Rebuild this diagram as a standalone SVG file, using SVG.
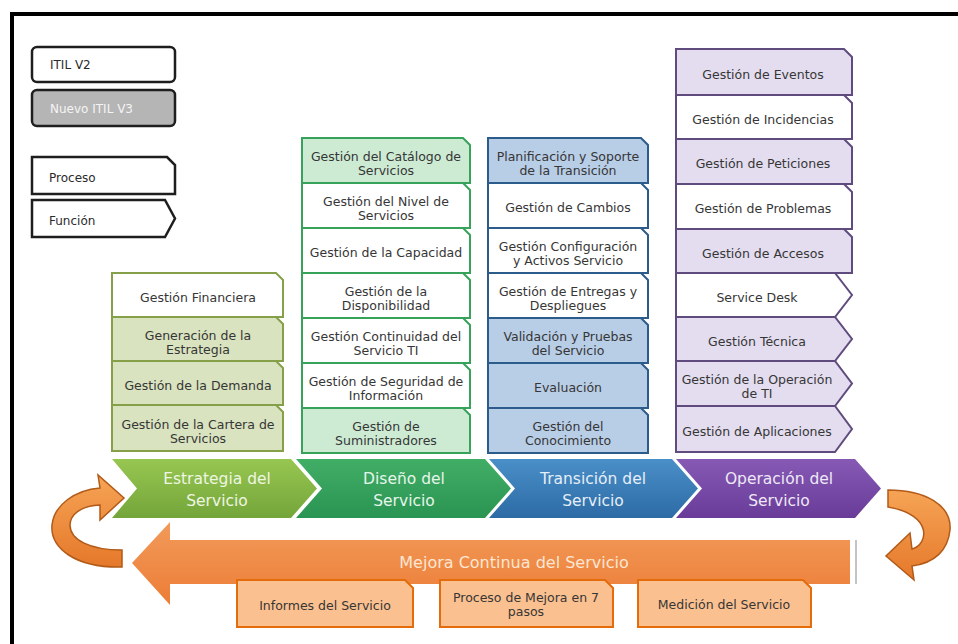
<svg xmlns="http://www.w3.org/2000/svg" width="958" height="644" viewBox="0 0 958 644">
<defs>
<style>
.t{font-family:"DejaVu Sans",Verdana,sans-serif;font-size:12.5px;fill:#363636;text-anchor:middle}
.lg{font-family:"DejaVu Sans",Verdana,sans-serif;font-size:12px;fill:#2a2a2a}
.ph{font-family:"DejaVu Sans",Verdana,sans-serif;font-size:15.5px;text-anchor:middle}
.lgb{stroke:#1e1e1e;stroke-width:2.5}
.s1{stroke:#86a04a;stroke-width:2}
.s2{stroke:#37a35a;stroke-width:2}
.s3{stroke:#2b5c8c;stroke-width:2}
.s4{stroke:#5f4b7d;stroke-width:2}
.so{stroke:#e46c0a;stroke-width:2;fill:#fbc08f}
.w{fill:#ffffff}
.f1{fill:#d9e3bf}
.f2{fill:#cdebd3}
.f3{fill:#b8cde6}
.f4{fill:#e3ddef}
.curv{fill:url(#gCurve);stroke:#b25a18;stroke-width:1.5}
</style>
<linearGradient id="gE" x1="0" y1="0" x2="0" y2="1"><stop offset="0" stop-color="#97c651"/><stop offset="1" stop-color="#74a53a"/></linearGradient>
<linearGradient id="gD" x1="0" y1="0" x2="0" y2="1"><stop offset="0" stop-color="#41ae66"/><stop offset="1" stop-color="#2a9452"/></linearGradient>
<linearGradient id="gT" x1="0" y1="0" x2="0" y2="1"><stop offset="0" stop-color="#4a8fc8"/><stop offset="1" stop-color="#2d6ba5"/></linearGradient>
<linearGradient id="gO" x1="0" y1="0" x2="0" y2="1"><stop offset="0" stop-color="#8659b5"/><stop offset="1" stop-color="#683c98"/></linearGradient>
<linearGradient id="gOr" x1="0" y1="0" x2="0" y2="1"><stop offset="0" stop-color="#f29a5a"/><stop offset="1" stop-color="#ec7d36"/></linearGradient>
<linearGradient id="gCurve" x1="0" y1="0" x2="0" y2="1"><stop offset="0" stop-color="#f6a456"/><stop offset="1" stop-color="#e5782a"/></linearGradient>
</defs>

<rect x="0" y="0" width="958" height="644" fill="#ffffff"/>
<g id="frame">
<rect x="10" y="12" width="948" height="4" fill="#000"/>
<rect x="10" y="12" width="4" height="632" fill="#000"/>
</g>

<!-- Legend -->
<g id="legend-itil-v2"><rect x="32" y="47" width="143" height="35" rx="5" class="lgb" fill="#fff"/><text x="50" y="69" class="lg">ITIL V2</text></g>
<g id="legend-nuevo-itil-v3"><rect x="32" y="90" width="143" height="36" rx="5" class="lgb" fill="#b5b5b5"/><text x="50" y="113" class="lg" style="fill:#f4f4f4">Nuevo ITIL V3</text></g>
<g id="legend-proceso"><path d="M32 157 H167 L175 165 V194 H32 Z" class="lgb" fill="#fff"/><text x="49" y="182" class="lg">Proceso</text></g>
<g id="legend-funcion"><path d="M32 200 H165 L175 218.5 L165 237 H32 Z" class="lgb" fill="#fff"/><text x="49" y="225" class="lg">Función</text></g>

<!-- Estrategia column -->
<g id="estrategia-financiera"><path d="M112 273 H276 L283 280 V317 H112 Z" class="s1 w"/><text x="198" y="301.5" class="t">Gestión Financiera</text></g>
<g id="estrategia-generacion"><path d="M112 317 H276 L283 324 V361 H112 Z" class="s1 f1"/><text x="198" y="339.5" class="t">Generación de la</text><text x="198" y="353.5" class="t">Estrategia</text></g>
<g id="estrategia-demanda"><path d="M112 361 H276 L283 368 V405 H112 Z" class="s1 f1"/><text x="198" y="389.5" class="t">Gestión de la Demanda</text></g>
<g id="estrategia-cartera"><path d="M112 405 H276 L283 412 V451 H112 Z" class="s1 f1"/><text x="198" y="428.5" class="t">Gestión de la Cartera de</text><text x="198" y="442.5" class="t">Servicios</text></g>

<!-- Diseño column -->
<g id="diseno-catalogo"><path d="M302 138 H463 L470 145 V183 H302 Z" class="s2 f2"/><text x="386" y="161" class="t">Gestión del Catálogo de</text><text x="386" y="175" class="t">Servicios</text></g>
<g id="diseno-nivel"><path d="M302 183 H463 L470 190 V228 H302 Z" class="s2 w"/><text x="386" y="206" class="t">Gestión del Nivel de</text><text x="386" y="220" class="t">Servicios</text></g>
<g id="diseno-capacidad"><path d="M302 228 H463 L470 235 V273 H302 Z" class="s2 w"/><text x="386" y="257" class="t">Gestión de la Capacidad</text></g>
<g id="diseno-disponibilidad"><path d="M302 273 H463 L470 280 V318 H302 Z" class="s2 w"/><text x="386" y="296" class="t">Gestión de la</text><text x="386" y="310" class="t">Disponibilidad</text></g>
<g id="diseno-continuidad"><path d="M302 318 H463 L470 325 V363 H302 Z" class="s2 w"/><text x="386" y="341" class="t">Gestión Continuidad del</text><text x="386" y="355" class="t">Servicio TI</text></g>
<g id="diseno-seguridad"><path d="M302 363 H463 L470 370 V408 H302 Z" class="s2 w"/><text x="386" y="386" class="t">Gestión de Seguridad de</text><text x="386" y="400" class="t">Información</text></g>
<g id="diseno-suministradores"><path d="M302 408 H463 L470 415 V453 H302 Z" class="s2 f2"/><text x="386" y="431" class="t">Gestión de</text><text x="386" y="445" class="t">Suministradores</text></g>

<!-- Transición column -->
<g id="transicion-planificacion"><path d="M488 138 H641 L648 145 V183 H488 Z" class="s3 f3"/><text x="568" y="161" class="t">Planificación y Soporte</text><text x="568" y="175" class="t">de la Transición</text></g>
<g id="transicion-cambios"><path d="M488 183 H641 L648 190 V228 H488 Z" class="s3 w"/><text x="568" y="212" class="t">Gestión de Cambios</text></g>
<g id="transicion-configuracion"><path d="M488 228 H641 L648 235 V273 H488 Z" class="s3 w"/><text x="568" y="251" class="t">Gestión Configuración</text><text x="568" y="265" class="t">y Activos Servicio</text></g>
<g id="transicion-entregas"><path d="M488 273 H641 L648 280 V318 H488 Z" class="s3 w"/><text x="568" y="296" class="t">Gestión de Entregas y</text><text x="568" y="310" class="t">Despliegues</text></g>
<g id="transicion-validacion"><path d="M488 318 H641 L648 325 V363 H488 Z" class="s3 f3"/><text x="568" y="341" class="t">Validación y Pruebas</text><text x="568" y="355" class="t">del Servicio</text></g>
<g id="transicion-evaluacion"><path d="M488 363 H641 L648 370 V408 H488 Z" class="s3 f3"/><text x="568" y="392" class="t">Evaluación</text></g>
<g id="transicion-conocimiento"><path d="M488 408 H641 L648 415 V453 H488 Z" class="s3 f3"/><text x="568" y="431" class="t">Gestión del</text><text x="568" y="445" class="t">Conocimiento</text></g>

<!-- Operación column -->
<g id="operacion-eventos"><path d="M676 49 H844 L852 57 V95 H676 Z" class="s4 f4"/><text x="763" y="78.5" class="t">Gestión de Eventos</text></g>
<g id="operacion-incidencias"><path d="M676 95 H844 L852 103 V139 H676 Z" class="s4 w"/><text x="763" y="123.5" class="t">Gestión de Incidencias</text></g>
<g id="operacion-peticiones"><path d="M676 139 H844 L852 147 V184 H676 Z" class="s4 f4"/><text x="763" y="168" class="t">Gestión de Peticiones</text></g>
<g id="operacion-problemas"><path d="M676 184 H844 L852 192 V229 H676 Z" class="s4 w"/><text x="763" y="213" class="t">Gestión de Problemas</text></g>
<g id="operacion-accesos"><path d="M676 229 H844 L852 237 V273 H676 Z" class="s4 f4"/><text x="763" y="257.5" class="t">Gestión de Accesos</text></g>
<g id="operacion-service-desk"><path d="M676 273 H835 L852 295 L835 317 H676 Z" class="s4 w"/><text x="757" y="301.5" class="t">Service Desk</text></g>
<g id="operacion-tecnica"><path d="M676 317 H835 L852 339 L835 361 H676 Z" class="s4 f4"/><text x="757" y="345.5" class="t">Gestión Técnica</text></g>
<g id="operacion-operacion-ti"><path d="M676 361 H835 L852 383.5 L835 406 H676 Z" class="s4 f4"/><text x="757" y="384" class="t">Gestión de la Operación</text><text x="757" y="398" class="t">de TI</text></g>
<g id="operacion-aplicaciones"><path d="M676 406 H835 L852 429 L835 452 H676 Z" class="s4 f4"/><text x="757" y="435.5" class="t">Gestión de Aplicaciones</text></g>

<!-- Phase chevrons -->
<g id="fase-estrategia"><path d="M112 459 H291 L317 488.5 L291 518 H112 L137 488.5 Z" fill="url(#gE)"/><text x="217" y="484" class="ph" fill="#eef6e2">Estrategia del</text><text x="217" y="506" class="ph" fill="#eef6e2">Servicio</text></g>
<g id="fase-diseno"><path d="M296 459 H485 L511 488.5 L485 518 H296 L322 488.5 Z" fill="url(#gD)"/><text x="404" y="484" class="ph" fill="#e6f5ea">Diseño del</text><text x="404" y="506" class="ph" fill="#e6f5ea">Servicio</text></g>
<g id="fase-transicion"><path d="M489 459 H672 L698 488.5 L672 518 H489 L515 488.5 Z" fill="url(#gT)"/><text x="593" y="484" class="ph" fill="#e6eef8">Transición del</text><text x="593" y="506" class="ph" fill="#e6eef8">Servicio</text></g>
<g id="fase-operacion"><path d="M676 459 H855 L881 488.5 L855 518 H676 L702 488.5 Z" fill="url(#gO)"/><text x="779" y="484" class="ph" fill="#efe8f7">Operación del</text><text x="779" y="506" class="ph" fill="#efe8f7">Servicio</text></g>

<!-- Mejora continua -->
<g id="mejora-continua"><path d="M132 563 L170 522 V540 H850 V584 H170 V605 Z" fill="url(#gOr)"/><line x1="856" y1="540" x2="856" y2="584" stroke="#b0b0b0" stroke-width="1.5"/><text x="514" y="568" class="ph" style="font-size:16px" fill="#fde6d2">Mejora Continua del Servicio</text></g>
<g id="mejora-informes"><path d="M237 580 H405 L413 588 V627 H237 Z" class="so"/><text x="325" y="609.5" class="t">Informes del Servicio</text></g>
<g id="mejora-proceso-7-pasos"><path d="M440 580 H605 L613 588 V627 H440 Z" class="so"/><text x="526" y="601.5" class="t">Proceso de Mejora en 7</text><text x="526" y="615.5" class="t">pasos</text></g>
<g id="mejora-medicion"><path d="M638 580 H803 L811 588 V627 H638 Z" class="so"/><text x="724" y="608.5" class="t">Medición del Servicio</text></g>

<!-- Connectors (curved cycle arrows) -->
<g id="connectors">
<path class="curv" d="M122 567 C75 568 50 548 52 525 C54 505 75 490 100 488 L98 475 L124 498 L100 520 L100 505 C80 506 70 515 70 525 C70 540 90 550 122 550 Z"/>
<path class="curv" d="M888 490 C925 490 952 505 950 530 C948 550 935 563 912 566 L914 580 L886 556 L910 533 L912 549 C928 545 934 515 888 507 Z"/>
</g>
</svg>
